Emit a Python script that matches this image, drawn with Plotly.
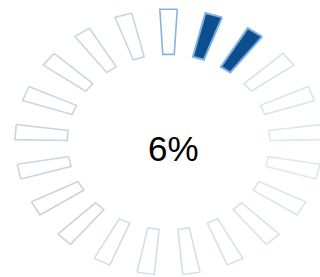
import math
import plotly.graph_objects as go

# ---- data ----
percent_label = "6%"
segment_index = list(range(21))
segment_filled = [False, True, True] + [False] * 18
segment_line_colors = [
    "#86b4e2", "#7fb0e2", "#7fb0e2",
    "#d9e1ea", "#dbe3ec", "#dfe6ee", "#dfe6ee", "#dce4ec", "#d9e2ec",
    "#d7e1eb", "#d4dfea", "#d2deea", "#d2dde9", "#d2d2d2", "#d0d0d0",
    "#cad8e4", "#c6d5e2", "#c8d7e3", "#c8d7e3", "#c8d7e3", "#c9d6e2",
]
fill_color = "#0d4f8e"

# ---- geometry (derived from index) ----
n = len(segment_index)
step = 360.0 / n
r_in, r_out = 0.66, 1.0
half_w = 3.25

fig = go.Figure()
for i, filled, lc in zip(segment_index, segment_filled, segment_line_colors):
    a = 90 - i * step
    angs = [a - half_w, a + half_w]
    xs, ys = [], []
    for ang in angs:
        xs.append(r_out * math.cos(math.radians(ang)))
        ys.append(r_out * math.sin(math.radians(ang)))
    for ang in reversed(angs):
        xs.append(r_in * math.cos(math.radians(ang)))
        ys.append(r_in * math.sin(math.radians(ang)))
    xs.append(xs[0]); ys.append(ys[0])
    fig.add_trace(go.Scatter(
        x=xs, y=ys, mode="lines", fill="toself",
        fillcolor=fill_color if filled else "rgba(255,255,255,0)",
        line=dict(color=lc, width=2 if filled else 1.6),
        hoverinfo="skip", showlegend=False,
    ))

fig.add_annotation(
    x=0.543, y=0.464, xref="paper", yref="paper",
    text=percent_label, showarrow=False,
    font=dict(family="Liberation Sans, Arial, sans-serif", size=35, color="#000000"),
)

fig.update_layout(
    width=320, height=277,
    margin=dict(l=0, r=0, t=0, b=0),
    paper_bgcolor="white", plot_bgcolor="white",
    xaxis=dict(range=[-1.097, 0.986], visible=False, fixedrange=True),
    yaxis=dict(range=[-1.015, 1.068], visible=False, fixedrange=True),
)
fig.write_html(
    "out.html",
    config={"displayModeBar": False},
    post_script="document.body.style.margin='0';document.body.style.overflow='hidden';",
)
